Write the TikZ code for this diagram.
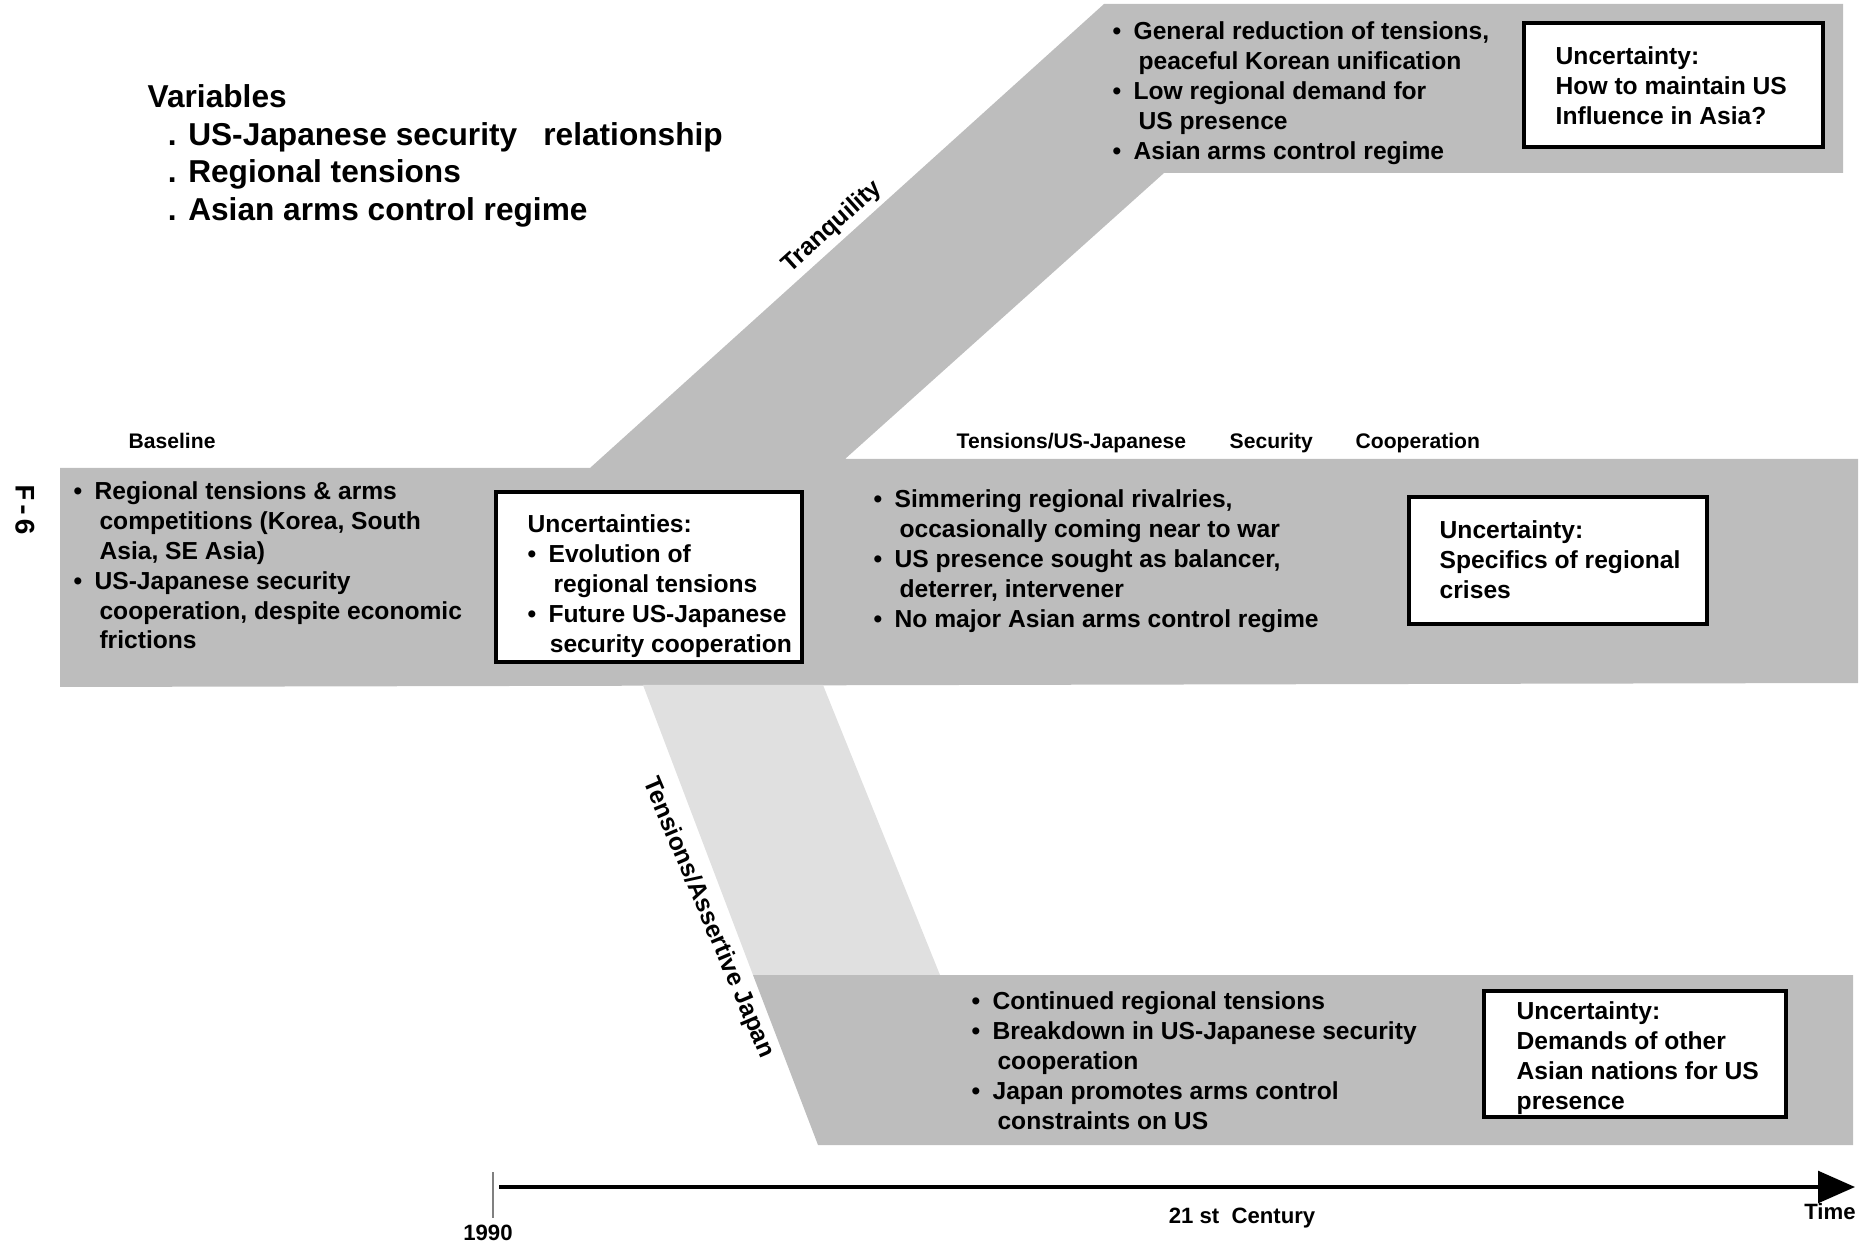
\documentclass[tikz,border=0pt]{standalone}
\usepackage{fontspec}
\setmainfont{Liberation Sans}
\newfontfamily\pagefont{Liberation Mono}
\usetikzlibrary{arrows.meta}

\newcommand\bu{\makebox[0.85em][l]{\textbullet}}
\newcommand\cont{\hspace*{1.05em}}

\begin{document}
\begin{tikzpicture}[x=0.01cm, y=-0.01cm,
        halftone/.style={fill=black!26, draw=none},
        faded/.style={fill=black!12, draw=none},
        ubox/.style={draw=black, fill=white, line width=1pt},
        bandtxt/.style={anchor=north west, inner sep=0pt, align=left,
            font=\fontsize{7}{8.5}\selectfont\bfseries},
        lbl/.style={anchor=base west, inner sep=0pt,
            font=\fontsize{6}{7}\selectfont\bfseries},
        slant/.style={inner sep=0pt, font=\fontsize{7}{8}\selectfont\bfseries},
        axislbl/.style={inner sep=0pt, font=\fontsize{6.3}{7}\selectfont\bfseries}]
        \useasboundingbox (0,0) rectangle (1872,1243);

        % shaded paths: baseline, tranquility, assertive japan
        \fill[halftone] (60,468) -- (590,468) -- (1104,4) -- (1843,4) -- (1843,173)
            -- (1164,173) -- (845,459) -- (1858,459) -- (1858,683) -- (60,687) -- cycle;
        \fill[faded] (643,685) -- (823,685) -- (940,975) -- (753,975) -- cycle;
        \fill[halftone] (753,975) -- (1853,975) -- (1853,1145) -- (818,1145) -- cycle;

        \node[anchor=north west, inner sep=0pt, align=left,
            font=\fontsize{9}{10.7}\selectfont\bfseries] (vars) at (147,84) {Variables\\
            \hspace*{5.7pt}. US-Japanese security\hspace{0.55em} relationship\\
            \hspace*{5.7pt}. Regional tensions\\
            \hspace*{5.7pt}. Asian arms control regime};

        \node[slant, rotate=42] (tranq) at (832,227) {Tranquility};
        \node[slant, rotate=-67] (assert) at (708,918) {Tensions/Assertive Japan};

        \node[lbl] (base) at (128,449) {Baseline};
        \node[lbl] (coopA) at (956,449) {Tensions/US-Japanese};
        \node[lbl] (coopB) at (1229,449) {Security};
        \node[lbl] (coopC) at (1355,449) {Cooperation};

        \node[inner sep=0pt, rotate=-90, font={\pagefont\fontsize{8}{9}\selectfont\bfseries}] (pg) at (25,510) {F-6};

        % band texts
        \node[bandtxt] (topTxt) at (1112,21) {\bu General reduction of tensions,\\
            \cont peaceful Korean unification\\
            \bu Low regional demand for\\
            \cont US presence\\
            \bu Asian arms control regime};
        \node[bandtxt] (baseTxt) at (73,481) {\bu Regional tensions \& arms\\
            \cont competitions (Korea, South\\
            \cont Asia, SE Asia)\\
            \bu US-Japanese security\\
            \cont cooperation, despite economic\\
            \cont frictions};
        \node[bandtxt] (coopTxt) at (873,489) {\bu Simmering regional rivalries,\\
            \cont occasionally coming near to war\\
            \bu US presence sought as balancer,\\
            \cont deterrer, intervener\\
            \bu No major Asian arms control regime};
        \node[bandtxt] (assertTxt) at (971,991) {\bu Continued regional tensions\\
            \bu Breakdown in US-Japanese security\\
            \cont cooperation\\
            \bu Japan promotes arms control\\
            \cont constraints on US};

        % uncertainty boxes
        \draw[ubox] (1524,23) rectangle (1823,147);
        \draw[ubox] (496,492) rectangle (802,662);
        \draw[ubox] (1409,497) rectangle (1707,624);
        \draw[ubox] (1484,991) rectangle (1786,1117);
        \node[bandtxt] (tranqBox) at (1555,46) {Uncertainty:\\
            How to maintain US\\
            Influence in Asia?};
        \node[bandtxt] (baseBox) at (527,514) {Uncertainties:\\
            \bu Evolution of\\
            \cont regional tensions\\
            \bu Future US-Japanese\\
            \hspace*{0.9em}security cooperation};
        \node[bandtxt] (coopBox) at (1439,520) {Uncertainty:\\
            Specifics of regional\\
            crises};
        \node[bandtxt] (assertBox) at (1516,1001) {Uncertainty:\\
            Demands of other\\
            Asian nations for US\\
            presence};

        % time axis
        \coordinate (t0) at (499,1187);
        \coordinate (t1) at (1855,1187);
        \coordinate (k0) at (493,1172);
        \coordinate (k1) at (493,1218);
        \draw[line width=1pt, -{Triangle[length=10.5pt, width=9pt]}] (t0) -- (t1);
        \draw[gray, line width=0.4pt] (k0) -- (k1);
        \node[axislbl] (yr) at (488,1233) {1990};
        \node[axislbl] (cent) at (1242,1218) {21\ st\ \ Century};
        \node[axislbl] (time) at (1830,1212) {Time};
    \end{tikzpicture}
\end{document}
